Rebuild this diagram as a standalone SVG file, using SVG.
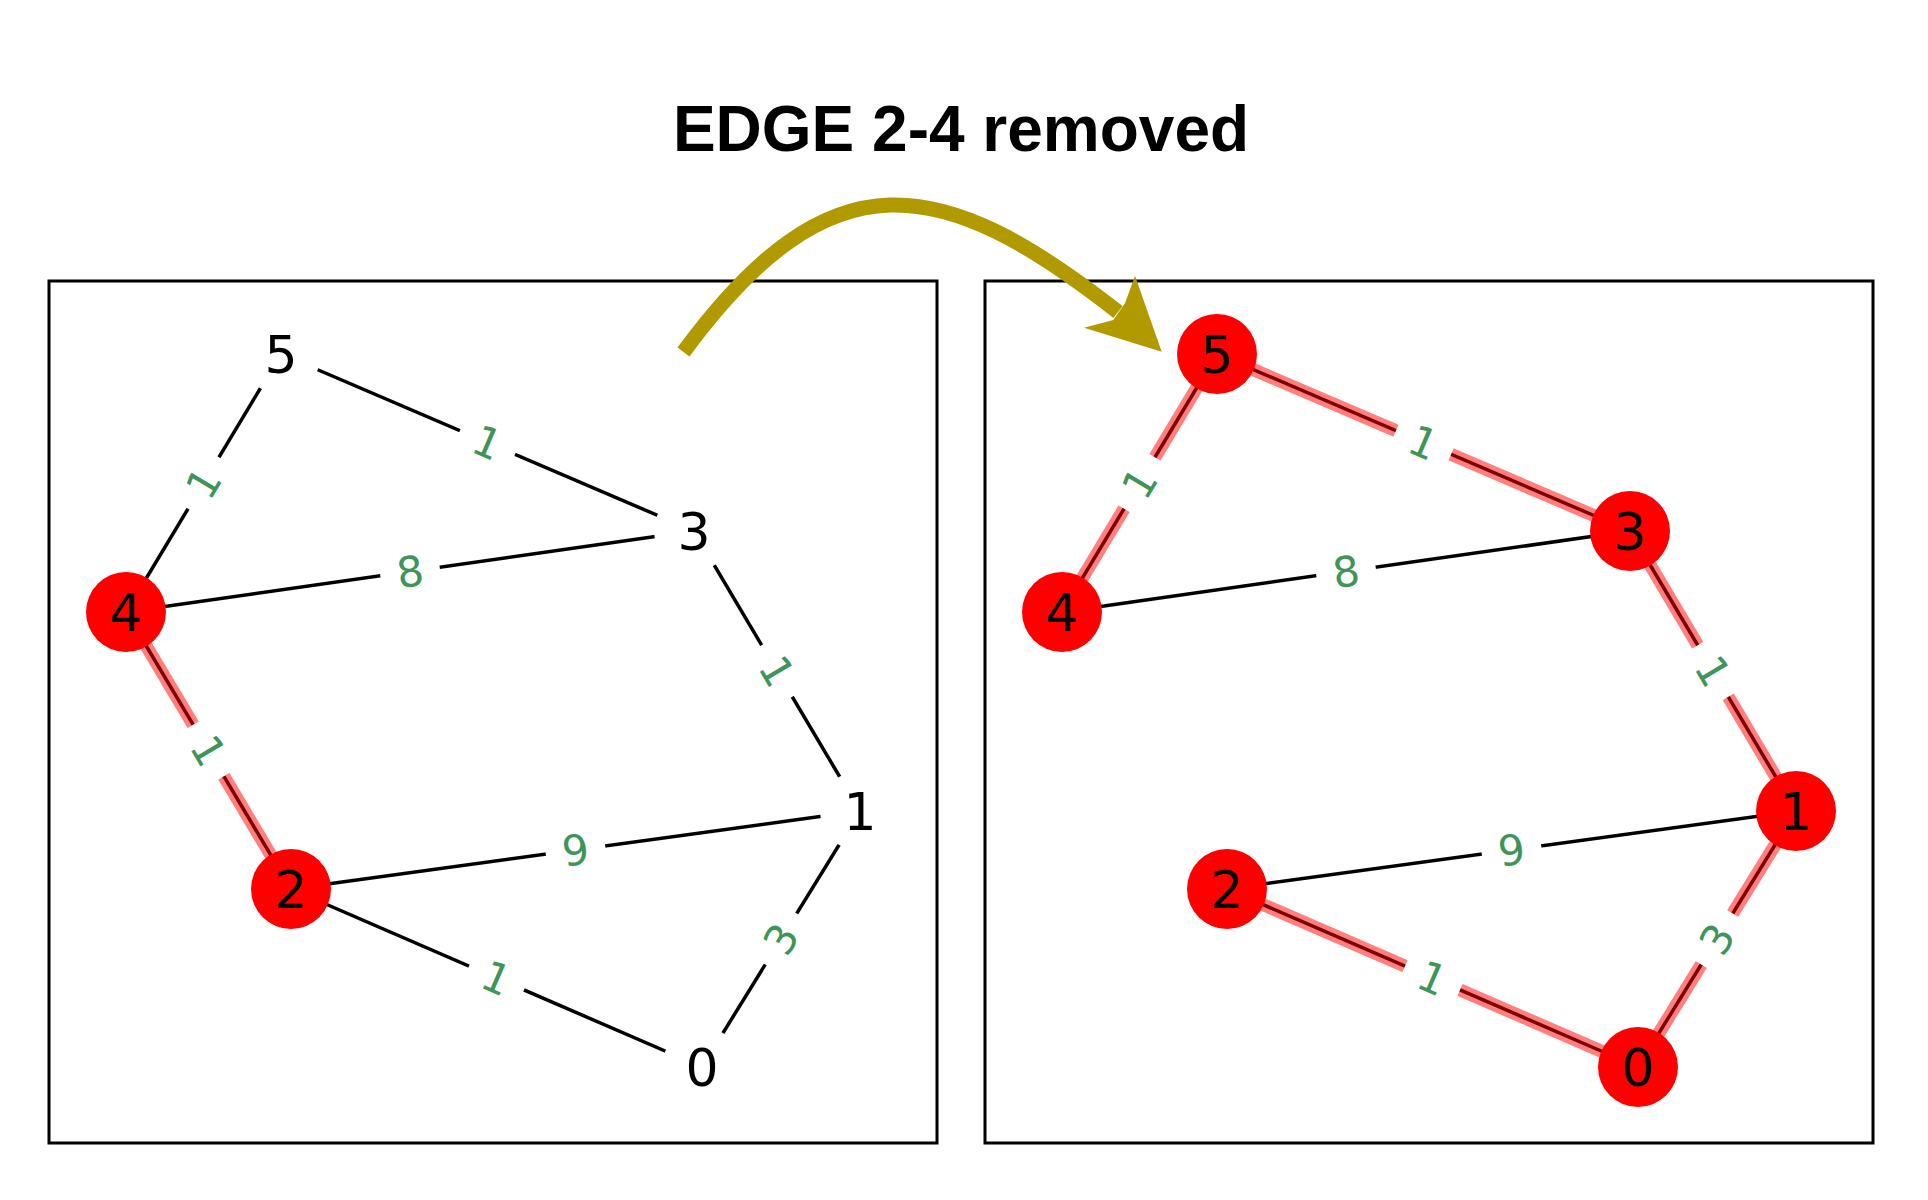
<svg xmlns="http://www.w3.org/2000/svg" width="1928" height="1200" viewBox="0 0 1928 1200">
<style>
.frame{fill:none;stroke:#000;stroke-width:3}
.e{stroke:#000;stroke-width:3.5;stroke-linecap:butt}
.hl{stroke:#ff0000;stroke-opacity:0.5;stroke-width:13}
.lb rect{fill:#fff}
.lb text{font-family:"DejaVu Sans",sans-serif;font-size:42px;fill:#3f9458;text-anchor:middle}
.nw{fill:#fff}
.nr{fill:#ff0000}
.nt{font-family:"DejaVu Sans",sans-serif;font-size:52px;fill:#000;text-anchor:middle}
.title{font-family:"Liberation Sans",Arial,sans-serif;font-weight:bold;font-size:64px;fill:#000;text-anchor:middle}
.arrow{fill:none;stroke:#b09a00;stroke-width:15}
.head{fill:#b09a00}
</style>
<rect width="1928" height="1200" fill="#fff"/>
<text class="title" x="961" y="151">EDGE 2-4 removed</text>
<g id="frames">
<rect class="frame" x="49" y="281" width="888" height="862"/>
<rect class="frame" x="985" y="281" width="888" height="862"/>
</g>
<g id="connectors">
<line class="e" x1="281" y1="354" x2="126" y2="612"/>
<line class="e" x1="281" y1="354" x2="694" y2="531"/>
<line class="e" x1="126" y1="612" x2="694" y2="531"/>
<line class="e" x1="694" y1="531" x2="860" y2="811"/>
<line class="e" x1="126" y1="612" x2="291" y2="889"/>
<line class="e" x1="291" y1="889" x2="860" y2="811"/>
<line class="e" x1="291" y1="889" x2="702" y2="1067"/>
<line class="e" x1="860" y1="811" x2="702" y2="1067"/>
<line class="hl" x1="126" y1="612" x2="291" y2="889"/>
<line class="e" x1="1217" y1="354" x2="1062" y2="612"/>
<line class="e" x1="1217" y1="354" x2="1630" y2="531"/>
<line class="e" x1="1062" y1="612" x2="1630" y2="531"/>
<line class="e" x1="1630" y1="531" x2="1796" y2="811"/>
<line class="e" x1="1227" y1="889" x2="1796" y2="811"/>
<line class="e" x1="1227" y1="889" x2="1638" y2="1067"/>
<line class="e" x1="1796" y1="811" x2="1638" y2="1067"/>
<line class="hl" x1="1217" y1="354" x2="1062" y2="612"/>
<line class="hl" x1="1217" y1="354" x2="1630" y2="531"/>
<line class="hl" x1="1630" y1="531" x2="1796" y2="811"/>
<line class="hl" x1="1227" y1="889" x2="1638" y2="1067"/>
<line class="hl" x1="1796" y1="811" x2="1638" y2="1067"/>
<g class="lb" transform="translate(203.5,483) rotate(-59)"><rect x="-30" y="-28" width="60" height="56" rx="8"/><text x="0" y="15">1</text></g>
<g class="lb" transform="translate(487.5,442.5) rotate(23.2)"><rect x="-30" y="-28" width="60" height="56" rx="8"/><text x="0" y="15">1</text></g>
<g class="lb" transform="translate(410,571.5) rotate(-8.1)"><rect x="-30" y="-28" width="60" height="56" rx="8"/><text x="0" y="15">8</text></g>
<g class="lb" transform="translate(777,671) rotate(59.3)"><rect x="-30" y="-28" width="60" height="56" rx="8"/><text x="0" y="15">1</text></g>
<g class="lb" transform="translate(208.5,750.5) rotate(59.2)"><rect x="-30" y="-28" width="60" height="56" rx="8"/><text x="0" y="15">1</text></g>
<g class="lb" transform="translate(575.5,850) rotate(-7.8)"><rect x="-30" y="-28" width="60" height="56" rx="8"/><text x="0" y="15">9</text></g>
<g class="lb" transform="translate(496.5,978) rotate(23.4)"><rect x="-30" y="-28" width="60" height="56" rx="8"/><text x="0" y="15">1</text></g>
<g class="lb" transform="translate(781,939) rotate(-58.3)"><rect x="-30" y="-28" width="60" height="56" rx="8"/><text x="0" y="15">3</text></g>
<g class="lb" transform="translate(1139.5,483) rotate(-59)"><rect x="-30" y="-28" width="60" height="56" rx="8"/><text x="0" y="15">1</text></g>
<g class="lb" transform="translate(1423.5,442.5) rotate(23.2)"><rect x="-30" y="-28" width="60" height="56" rx="8"/><text x="0" y="15">1</text></g>
<g class="lb" transform="translate(1346,571.5) rotate(-8.1)"><rect x="-30" y="-28" width="60" height="56" rx="8"/><text x="0" y="15">8</text></g>
<g class="lb" transform="translate(1713,671) rotate(59.3)"><rect x="-30" y="-28" width="60" height="56" rx="8"/><text x="0" y="15">1</text></g>
<g class="lb" transform="translate(1511.5,850) rotate(-7.8)"><rect x="-30" y="-28" width="60" height="56" rx="8"/><text x="0" y="15">9</text></g>
<g class="lb" transform="translate(1432.5,978) rotate(23.4)"><rect x="-30" y="-28" width="60" height="56" rx="8"/><text x="0" y="15">1</text></g>
<g class="lb" transform="translate(1717,939) rotate(-58.3)"><rect x="-30" y="-28" width="60" height="56" rx="8"/><text x="0" y="15">3</text></g>
</g>
<g id="L5"><circle class="nw" cx="281" cy="354" r="40"/><text class="nt" x="281" y="373">5</text></g>
<g id="L3"><circle class="nw" cx="694" cy="531" r="40"/><text class="nt" x="694" y="550">3</text></g>
<g id="L4"><circle class="nr" cx="126" cy="612" r="40"/><text class="nt" x="126" y="631">4</text></g>
<g id="L2"><circle class="nr" cx="291" cy="889" r="40"/><text class="nt" x="291" y="908">2</text></g>
<g id="L1"><circle class="nw" cx="860" cy="811" r="40"/><text class="nt" x="860" y="830">1</text></g>
<g id="L0"><circle class="nw" cx="702" cy="1067" r="40"/><text class="nt" x="702" y="1086">0</text></g>
<g id="R5"><circle class="nr" cx="1217" cy="354" r="40"/><text class="nt" x="1217" y="373">5</text></g>
<g id="R3"><circle class="nr" cx="1630" cy="531" r="40"/><text class="nt" x="1630" y="550">3</text></g>
<g id="R4"><circle class="nr" cx="1062" cy="612" r="40"/><text class="nt" x="1062" y="631">4</text></g>
<g id="R2"><circle class="nr" cx="1227" cy="889" r="40"/><text class="nt" x="1227" y="908">2</text></g>
<g id="R1"><circle class="nr" cx="1796" cy="811" r="40"/><text class="nt" x="1796" y="830">1</text></g>
<g id="R0"><circle class="nr" cx="1638" cy="1067" r="40"/><text class="nt" x="1638" y="1086">0</text></g>
<g id="arrow">
<path class="arrow" d="M683.5,352 C831,151.6 941.7,173.8 1118,312"/>
<polygon class="head" points="1161.7,351.7 1135,275.7 1125,303.3 1113.3,320 1084,327.7"/>
</g>
</svg>
